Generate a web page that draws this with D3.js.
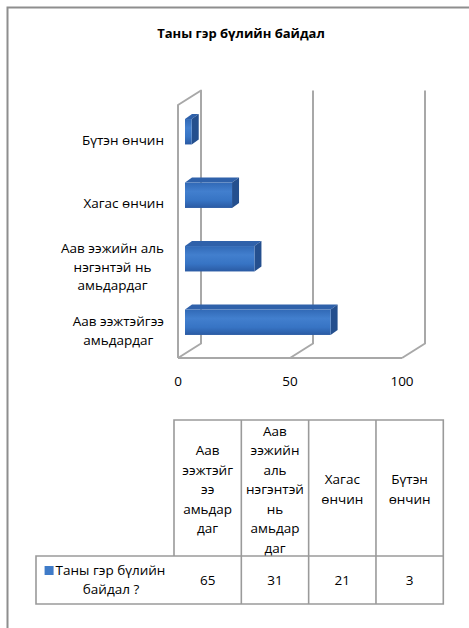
<!DOCTYPE html>
<html><head><meta charset="utf-8">
<script src="https://cdn.jsdelivr.net/npm/d3@7"></script>
<style>
body{margin:0;background:#fff;}
svg{display:block;font-family:"Open Sans","Noto Sans",sans-serif;}
</style></head>
<body>
<script>
// ---- data ----
const title = "Таны гэр бүлийн байдал";
const categories = ["Аав ээжтэйгээ амьдардаг","Аав ээжийн аль нэгэнтэй нь амьдардаг","Хагас өнчин","Бүтэн өнчин"];
const axisLabelLines = [["Аав ээжтэйгээ","амьдардаг"],["Аав ээжийн аль","нэгэнтэй нь","амьдардаг"],["Хагас өнчин"],["Бүтэн өнчин"]];
const tableHeaderLines = [["Аав","ээжтэйг","ээ","амьдар","даг"],["Аав","ээжийн","аль","нэгэнтэй","нь","амьдар","даг"],["Хагас","өнчин"],["Бүтэн","өнчин"]];
const seriesName = ["Таны гэр бүлийн","байдал ?"];
const values = [65,31,21,3];
const ticks = [0,50,100];

const W=469,H=628;
const svg=d3.select("body").append("svg").attr("width",W).attr("height",H);

// frame
svg.append("path").attr("d","M7.5,628V7.5H469").attr("fill","none").attr("stroke","#8e8e8e").attr("stroke-width",2);

// title
svg.append("text").attr("x",241).attr("y",38).attr("text-anchor","middle")
  .attr("font-size",13).attr("font-weight","bold").attr("fill","#000").text(title);

// scales
const x=d3.scaleLinear().domain([0,100]).range([178,402]);
const yTop=105,yBot=358;
const dX=23,dY=-14.5; // wall depth
const bdX=7,bdY=-5;   // bar depth
const barOff=7;       // bar front plane offset
const y=d3.scaleBand().domain(categories.slice().reverse()).range([100,354]).paddingInner(0.6).paddingOuter(0.3);

const gridC="#a8a8a8";
const g=svg.append("g").attr("fill","none").attr("stroke",gridC).attr("stroke-width",2).attr("stroke-linejoin","round");
g.append("path").attr("d",`M${x(0)},${yBot}V${yTop}L${x(0)+dX},${yTop+dY}V${yBot+dY}L${x(0)},${yBot}`);
g.append("path").attr("d",`M${x(0)},${yBot}H${x(100)}`);
ticks.filter(t=>t>0).forEach(t=>{
  g.append("path").attr("d",`M${x(t)},${yBot}L${x(t)+dX},${yBot+dY}V${yTop+dY}`);
});

// bars
const blue="#3f7bc8";
const defs=svg.append("defs");
const lg=defs.append("linearGradient").attr("id","bf").attr("x1",0).attr("y1",0).attr("x2",0).attr("y2",1);
lg.append("stop").attr("offset","0").attr("stop-color","#3169b6");
lg.append("stop").attr("offset","0.35").attr("stop-color","#427fce");
lg.append("stop").attr("offset","0.7").attr("stop-color","#3774c4");
lg.append("stop").attr("offset","1").attr("stop-color","#2a5aa3");

const bars=svg.append("g");
categories.forEach((c,i)=>{
  const v=values[i];
  const x0=x(0)+barOff, x1=x(v)+barOff, y0=y(c), y1=y(c)+y.bandwidth();
  bars.append("path").attr("d",`M${x0},${y0}L${x0+bdX},${y0+bdY}H${x1+bdX}L${x1},${y0}Z`).attr("fill","#2f61aa");
  bars.append("path").attr("d",`M${x1},${y0}L${x1+bdX},${y0+bdY}V${y1+bdY}L${x1},${y1}Z`).attr("fill","#244f8e");
  bars.append("rect").attr("x",x0).attr("y",y0).attr("width",x1-x0).attr("height",y1-y0).attr("fill","url(#bf)");
});

// category labels
const fs=13.5, lh=18.5;
categories.forEach((c,i)=>{
  const lines=axisLabelLines[i];
  const gg=svg.append("g");
  const ts=lines.map(l=>gg.append("text").attr("font-size",fs).attr("fill","#000").attr("text-anchor","middle").text(l));
  const mw=d3.max(ts,t=>t.node().getComputedTextLength());
  const cx=164-mw/2;
  const cy=y(c)+y.bandwidth()/2+8;
  ts.forEach((t,j)=>t.attr("x",cx).attr("y",cy+(j-(lines.length-1)/2)*lh+5));
});

// tick labels
ticks.forEach(t=>{
  svg.append("text").attr("x",x(t)).attr("y",386).attr("text-anchor","middle").attr("font-size",fs).attr("fill","#000").text(t);
});

// data table
const tx=d3.scaleBand().domain(categories).range([174,443.3]);
const tTop=420,tMid=556,tBot=604,tLeft=36;
const tb=svg.append("g").attr("fill","none").attr("stroke","#9a9a9a").attr("stroke-width",1.6);
tb.append("path").attr("d",`M${tx.range()[0]},${tMid}V${tTop}H${tx.range()[1]}V${tBot}H${tLeft}V${tMid}H${tx.range()[1]}`);
categories.forEach(c=>{ if(tx(c)>tx.range()[0]) tb.append("path").attr("d",`M${tx(c)},${tTop}V${tBot}`); });

categories.forEach((c,i)=>{
  const lines=tableHeaderLines[i];
  const cx=tx(c)+tx.bandwidth()/2, cy=(tTop+tMid)/2+1;
  lines.forEach((l,j)=>{
    svg.append("text").attr("x",cx).attr("y",cy+(j-(lines.length-1)/2)*19.5+5)
      .attr("text-anchor","middle").attr("font-size",fs).attr("fill","#000").text(l);
  });
  svg.append("text").attr("x",cx).attr("y",(tMid+tBot)/2+5).attr("text-anchor","middle")
    .attr("font-size",fs).attr("fill","#000").text(values[i]);
});

// series label with legend key
{
  const cx=(tLeft+tx.range()[0])/2, cy=(tMid+tBot)/2;
  const t1=svg.append("text").attr("font-size",fs).attr("fill","#000").attr("text-anchor","start").text(seriesName[0]);
  const w1=t1.node().getComputedTextLength();
  const key=9, gap=2;
  const total=key+gap+w1, sx=cx-total/2;
  svg.append("rect").attr("x",sx).attr("y",cy-14).attr("width",key).attr("height",key).attr("fill",blue);
  t1.attr("x",sx+key+gap).attr("y",cy-5);
  svg.append("text").attr("x",cx+6).attr("y",cy+14).attr("text-anchor","middle").attr("font-size",fs).attr("fill","#000").text(seriesName[1]);
}
</script>
</body></html>
